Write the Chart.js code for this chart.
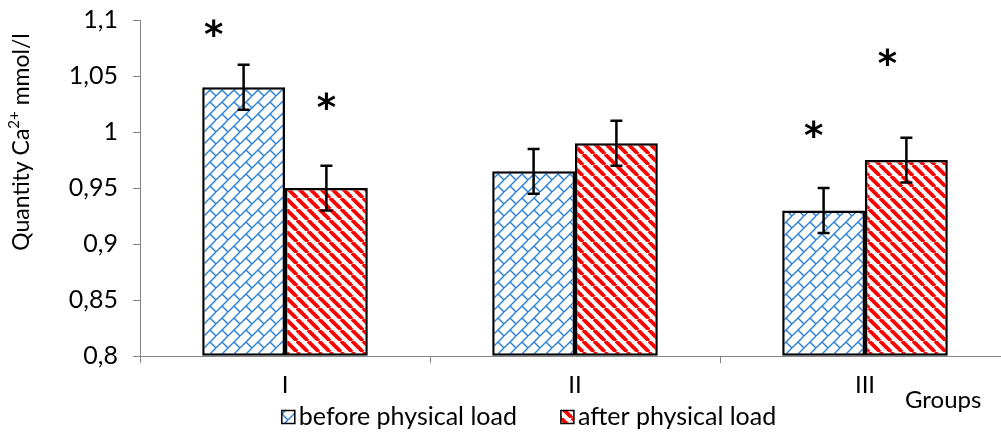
<!DOCTYPE html>
<html><head><meta charset="utf-8">
<script src="https://cdn.jsdelivr.net/npm/chart.js@4"></script>
<style>html,body{margin:0;padding:0;background:#fff;overflow:hidden}#wrap{width:1010px;height:432px}</style>
</head><body><div id="wrap"><canvas id="c" width="1010" height="432"></canvas></div>
<script>
const categories = ['I', 'II', 'III'];
const beforeValues = [1.04, 0.965, 0.93];
const afterValues = [0.95, 0.99, 0.975];
const beforeErrors = [0.02, 0.02, 0.02];
const afterErrors = [0.02, 0.02, 0.02];
const yTickLabels = ['0,8', '0,85', '0,9', '0,95', '1', '1,05', '1,1'];
const seriesNames = ['before physical load', 'after physical load'];
// value level where a significance asterisk sits (null = none)
const beforeStars = [1.09, null, 1.0];
const afterStars = [1.025, null, 1.064];
const yTitle = ['Quantity Ca', '2+', ' mmol/l'];
const xTitle = 'Groups';

const FONT = 'Lato';

function makePattern(kind) {
  const c = document.createElement('canvas');
  const g = c.getContext('2d');
  if (kind === 'red') {
    const s = 11; c.width = s; c.height = s;
    g.fillStyle = '#fff'; g.fillRect(0, 0, s, s);
    g.strokeStyle = '#ff0000'; g.lineWidth = 3.8;
    for (const x0 of [-s, 0, s]) { g.beginPath(); g.moveTo(x0, 0); g.lineTo(x0 + s, s); g.stroke(); }
  } else {
    const s = 12; c.width = s; c.height = s;
    g.fillStyle = '#fff'; g.fillRect(0, 0, s, s);
    g.strokeStyle = '#2a80d2'; g.lineWidth = 1.4;
    for (const x0 of [-s, 0, s]) { g.beginPath(); g.moveTo(x0, s); g.lineTo(x0 + s, 0); g.stroke(); }
    g.beginPath(); g.moveTo(s / 2, s / 2); g.lineTo(s, s); g.stroke();
  }
  return g.createPattern(c, 'repeat');
}

const bluePattern = makePattern('blue');
const redPattern = makePattern('red');

const errorBars = {
  id: 'errorBars',
  afterDatasetsDraw(chart) {
    const ctx = chart.ctx, ys = chart.scales.y;
    const errs = [beforeErrors, afterErrors];
    chart.data.datasets.forEach((ds, di) => {
      const meta = chart.getDatasetMeta(di);
      meta.data.forEach((bar, i) => {
        const v = ds.data[i], e = errs[di][i];
        const top = ys.getPixelForValue(v + e), bot = ys.getPixelForValue(v - e);
        ctx.save();
        ctx.strokeStyle = '#000'; ctx.lineWidth = 2.5;
        ctx.beginPath();
        ctx.moveTo(bar.x, top); ctx.lineTo(bar.x, bot);
        ctx.moveTo(bar.x - 6, top); ctx.lineTo(bar.x + 6, top);
        ctx.moveTo(bar.x - 6, bot); ctx.lineTo(bar.x + 6, bot);
        ctx.stroke();
        ctx.restore();
      });
    });
    // asterisks
    const stars = [beforeStars, afterStars];
    const shifts = [[-30, 0, -10], [0, 0, -19]];
    ctx.save();
    ctx.fillStyle = '#000';
    ctx.font = 'bold 37px "DejaVu Sans"';
    ctx.textAlign = 'center'; ctx.textBaseline = 'middle';
    stars.forEach((arr, di) => {
      const meta = chart.getDatasetMeta(di);
      arr.forEach((sv, i) => {
        if (sv == null) return;
        const x = meta.data[i].x + shifts[di][i];
        const y = ys.getPixelForValue(sv);
        ctx.fillText('*', x, y + 6);
      });
    });
    ctx.restore();
  },
  afterDraw(chart) {
    const ctx = chart.ctx;
    ctx.save();
    // y title
    ctx.fillStyle = '#000';
    const big = '23px ' + FONT, small = '15px ' + FONT;
    ctx.font = big; const w1 = ctx.measureText(yTitle[0]).width; const w3 = ctx.measureText(yTitle[2]).width;
    ctx.font = small; const w2 = ctx.measureText(yTitle[1]).width;
    const total = w1 + w2 + w3;
    const cy = 142;
    ctx.translate(22, cy);
    ctx.rotate(-Math.PI / 2);
    ctx.textBaseline = 'middle'; ctx.textAlign = 'left';
    let x = -total / 2;
    ctx.font = big; ctx.fillText(yTitle[0], x, 0); x += w1;
    ctx.font = small; ctx.fillText(yTitle[1], x, -8); x += w2;
    ctx.font = big; ctx.fillText(yTitle[2], x, 0);
    ctx.restore();
    // x title
    ctx.save();
    ctx.fillStyle = '#000'; ctx.font = '24px ' + FONT; ctx.textBaseline = 'middle'; ctx.textAlign = 'left';
    ctx.fillText(xTitle, 905, 400);
    ctx.restore();
    // legend
    ctx.save();
    const lf = '25px ' + FONT;
    ctx.font = lf; ctx.textBaseline = 'middle'; ctx.textAlign = 'left';
    const box = 13, gap = 4, spacing = 44;
    const items = chart.data.datasets.map(d => ({ label: d.label, fill: d.backgroundColor, w: ctx.measureText(d.label).width }));
    const totalW = items.reduce((a, it) => a + box + gap + it.w, 0) + spacing * (items.length - 1);
    let lx = 529 - totalW / 2;
    const ly = 417;
    items.forEach(it => {
      ctx.fillStyle = it.fill; ctx.fillRect(lx, ly - box / 2, box, box);
      ctx.strokeStyle = '#000'; ctx.lineWidth = 1.5; ctx.strokeRect(lx, ly - box / 2, box, box);
      ctx.fillStyle = '#000'; ctx.fillText(it.label, lx + box + gap, ly);
      lx += box + gap + it.w + spacing;
    });
    ctx.restore();
  }
};

new Chart(document.getElementById('c'), {
  type: 'bar',
  data: {
    labels: categories,
    datasets: [
      { label: seriesNames[0], data: beforeValues, backgroundColor: bluePattern, borderColor: '#000', borderWidth: 2.5, borderSkipped: false, base: 0.8, categoryPercentage: 0.571, barPercentage: 1 },
      { label: seriesNames[1], data: afterValues, backgroundColor: redPattern, borderColor: '#000', borderWidth: 2.5, borderSkipped: false, base: 0.8, categoryPercentage: 0.571, barPercentage: 1 }
    ]
  },
  options: {
    responsive: false, animation: false, devicePixelRatio: 1,
    layout: { padding: { top: 20, right: 0, bottom: 24, left: 0 } },
    plugins: { legend: { display: false }, tooltip: { enabled: false }, title: { display: false } },
    scales: {
      x: {
        grid: { display: true, drawOnChartArea: false, drawTicks: true, tickLength: 7, color: '#868686', offset: true },
        border: { display: true, color: '#868686', width: 1 },
        ticks: { font: { family: FONT, size: 24 }, color: '#000', padding: 8 }
      },
      y: {
        min: 0.8, max: 1.1,
        ticks: { stepSize: 0.05, font: { family: FONT, size: 25 }, color: '#000', padding: 15, callback: (v, i) => yTickLabels[i] },
        grid: { display: true, drawOnChartArea: false, drawTicks: true, tickLength: 7, color: '#868686' },
        border: { display: true, color: '#868686', width: 1 },
        afterFit: s => { s.width = 140; s.paddingTop = 0; s.paddingBottom = 0; }
      }
    }
  },
  plugins: [errorBars]
});
</script>
</body></html>
